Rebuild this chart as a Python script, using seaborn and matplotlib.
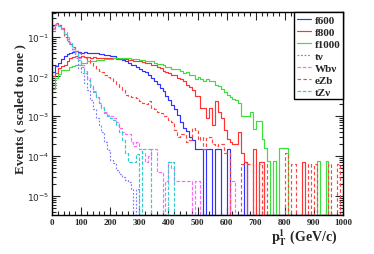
import numpy as np
import pandas as pd
import seaborn as sns
from matplotlib import pyplot as plt
from matplotlib.ticker import LogLocator, MultipleLocator, LogFormatterMathtext, NullFormatter

# 10 GeV bins from 0 to 1000, values read bin by bin off the picture
bin_lo = list(range(0, 1000, 10))

f600 = [0.013, 0.018, 0.022, 0.027, 0.032, 0.036, 0.038, 0.041, 0.043, 0.042,
        0.040, 0.041, 0.040, 0.039, 0.038, 0.038, 0.037, 0.036, 0.035, 0.034,
        0.033, 0.032, 0.030, 0.028, 0.026, 0.024, 0.022, 0.020, 0.019, 0.017,
        0.0155, 0.014, 0.0126, 0.011, 0.009, 0.0075, 0.0063, 0.005, 0.0042, 0.0032,
        0.0025, 0.0019, 0.0015, 0.0011, 0.0007, 0.0005, 0.00042, 0.0003, 0.00025, 0.00015,
        0.00015, 0.00015, 0, 0.00015, 0.00015, 0, 0.00015, 0.00015, 0, 0,
        0.00015, 0, 0, 0, 0, 0, 7e-5, 0, 0, 0,
        0, 0, 0, 0, 0, 0, 0, 0, 0, 0,
        0, 0, 0, 0, 0, 0, 0, 0, 0, 0,
        0, 0, 0, 0, 0, 0, 0, 0, 0, 0]

f800 = [0.010, 0.0125, 0.016, 0.018, 0.020, 0.024, 0.029, 0.031, 0.032, 0.031,
        0.032, 0.031, 0.031, 0.030, 0.031, 0.030, 0.030, 0.030, 0.029, 0.030,
        0.029, 0.029, 0.028, 0.028, 0.027, 0.027, 0.026, 0.026, 0.025, 0.025,
        0.024, 0.023, 0.022, 0.022, 0.020, 0.019, 0.017, 0.016, 0.014, 0.013,
        0.012, 0.011, 0.011, 0.009, 0.0085, 0.0075, 0.0062, 0.0055, 0.0045, 0.0032,
        0.0032, 0.0016, 0.0016, 0.0009, 0.0016, 0.0006, 0.0024, 0.0013, 0.0009, 0.00045,
        0.00027, 0.00022, 0.0002, 0.0002, 0.0004, 0.00012, 7e-5, 0, 0, 0.00015,
        0, 7e-5, 7e-5, 0, 0, 0, 0, 0, 0, 0,
        0, 0, 0, 0, 0, 0, 7e-5, 0, 0, 0,
        0, 0, 0, 0, 0, 0, 0, 0, 0, 0]

f1000 = [0.0048, 0.009, 0.0115, 0.0145, 0.0145, 0.0145, 0.017, 0.018, 0.020, 0.020,
         0.022, 0.022, 0.024, 0.024, 0.024, 0.026, 0.026, 0.026, 0.027, 0.027,
         0.027, 0.029, 0.029, 0.029, 0.029, 0.029, 0.029, 0.028, 0.027, 0.027,
         0.026, 0.026, 0.025, 0.025, 0.024, 0.022, 0.021, 0.021, 0.019, 0.017,
         0.017, 0.015, 0.015, 0.015, 0.014, 0.012, 0.013, 0.011, 0.011, 0.0085,
         0.0095, 0.0085, 0.0075, 0.0085, 0.0075, 0.0075, 0.006, 0.0057, 0.0048, 0.004,
         0.0035, 0.003, 0.0027, 0.0025, 0.0022, 0.001, 0.001, 0.001, 0.0013, 0.00047,
         0.00075, 0.00075, 0.00027, 0.00016, 7.5e-5, 0, 7.5e-5, 0, 0.00016, 0.00016,
         0.00016, 0, 0, 0, 0, 0, 0, 0, 0, 0,
         0, 7.5e-5, 0, 0, 7.5e-5, 0, 0, 0, 0, 0]

t_nu = [0.19, 0.21, 0.20, 0.16, 0.12, 0.085, 0.065, 0.044, 0.030, 0.016,
        0.012, 0.007, 0.0045, 0.0025, 0.0015, 0.0009, 0.0006, 0.0004, 0.00022, 0.00014,
        8e-5, 6.5e-5, 4.5e-5, 3.5e-5, 3e-5, 2.5e-5, 2.2e-5, 1.5e-5, 0, 1.5e-5,
        0, 0, 0, 0, 0, 0, 0, 0, 0, 0] + [0] * 60

wb_nu = [0.17, 0.21, 0.20, 0.17, 0.13, 0.10, 0.075, 0.055, 0.040, 0.030,
         0.020, 0.014, 0.009, 0.006, 0.0042, 0.003, 0.0022, 0.0017, 0.0013, 0.0011,
         0.001, 0.0009, 0.0007, 0.0005, 0.0004, 0.00035, 0.00035, 0.00022, 0.00018, 0.00022,
         0.00015, 0.00012, 7e-5, 0.0001, 0.00015, 0.00015, 4e-5, 4e-5, 0, 2.3e-5,
         7e-5, 5e-5, 2.3e-5, 2.3e-5, 2.3e-5, 2.3e-5, 2.3e-5, 2.3e-5, 0, 2.3e-5,
         2.3e-5, 0, 0, 0, 0, 0, 0, 0, 0, 0,
         0, 2.3e-5, 2.3e-5, 0, 0, 0, 0, 0, 0, 0] + [0] * 30

ezb = [0.14, 0.22, 0.20, 0.17, 0.10, 0.08, 0.065, 0.055, 0.045, 0.040,
       0.033, 0.030, 0.026, 0.022, 0.018, 0.0155, 0.014, 0.013, 0.011, 0.0095,
       0.009, 0.0075, 0.0065, 0.0055, 0.0045, 0.0035, 0.0033, 0.003, 0.003, 0.0028,
       0.0024, 0.0022, 0.002, 0.0024, 0.0016, 0.0015, 0.0013, 0.0012, 0.001, 0.001,
       0.0008, 0.0007, 0.00045, 0.0003, 0.00035, 0.00035, 0.00022, 0.00025, 0.0005, 0.00045,
       0.00025, 0.0003, 0.00015, 0.00028, 0.0003, 0.0002, 0.00018, 0.0002, 0.0002, 0.00012,
       0.00012, 0, 0, 0, 0, 6.4e-5, 6.4e-5, 6.4e-5, 6.4e-5, 0,
       0, 6.4e-5, 0, 6.4e-5, 0, 0, 0, 0, 0, 0,
       0.00012, 0, 6.4e-5, 6.4e-5, 0, 0, 0, 0, 6.4e-5, 0,
       6.4e-5, 0, 0, 0, 0, 6.4e-5, 0, 0, 6.4e-5, 0]

tz_nu = [0.16, 0.20, 0.19, 0.16, 0.12, 0.09, 0.07, 0.05, 0.036, 0.026,
         0.017, 0.012, 0.008, 0.0055, 0.004, 0.003, 0.0022, 0.0016, 0.0012, 0.001,
         0.0009, 0.0008, 0.0006, 0.0004, 0.00025, 0.00012, 7e-5, 7e-5, 7e-5, 0.00011,
         0, 0.00015, 0.00015, 0.00015, 0, 0, 0, 0, 0, 0,
         7e-5, 7e-5, 0, 0, 0, 0, 0, 0, 0, 0] + [0] * 50

labels = ['f600', 'f800', 'f1000', 't\u03bd', 'Wb\u03bd', 'eZb', 'tZ\u03bd']
series = [f600, f800, f1000, t_nu, wb_nu, ezb, tz_nu]
colors = ['#3333ff', '#ff3333', '#3ce03c', '#7b7bff', '#ff66ff', '#ff4444', '#33cccc']
styles = ['-', '-', '-', (0, (1.5, 1.5)), (0, (3, 1.5)), (0, (3, 2)), (0, (3, 1.5))]

ymin, ymax = 3.27e-6, 0.419
centers = np.array(bin_lo) + 5

sns.set_style('ticks')
plt.rcParams['mathtext.fontset'] = 'stix'

fig = plt.figure(figsize=(3.74, 2.55), dpi=100)
ax = fig.add_axes([52 / 374, 1 - 216 / 255, 291 / 374, 203 / 255])

for vals, lab, col, ls in zip(series, labels, colors, styles):
    # empty bins are drawn on the floor of the frame, as ROOT does
    df = pd.DataFrame({'pt': centers, 'w': np.maximum(np.array(vals, float), ymin)})
    sns.histplot(data=df, x='pt', weights='w', binwidth=10, binrange=(0, 1000),
                 element='step', fill=False,
                 color=col, linestyle=ls, linewidth=0.85, label=lab, ax=ax)

ax.set_yscale('log')
ax.set_xlim(0, 1000)
ax.set_ylim(ymin, ymax)
ax.set_xlabel('')
ax.set_ylabel('')

ax.xaxis.set_major_locator(MultipleLocator(100))
ax.xaxis.set_minor_locator(MultipleLocator(20))
ax.yaxis.set_major_locator(LogLocator(base=10, numticks=10))
ax.yaxis.set_minor_locator(LogLocator(base=10, subs=np.arange(2, 10), numticks=20))
ax.yaxis.set_major_formatter(LogFormatterMathtext())
ax.yaxis.set_minor_formatter(NullFormatter())
ax.tick_params(which='both', direction='in', top=True, right=True, width=0.8, pad=2)
ax.tick_params(which='major', length=6)
ax.tick_params(which='minor', length=3)
ax.tick_params(axis='y', labelsize=6.5)
for t in ax.get_xticklabels():
    t.set_family('Liberation Serif')
    t.set_weight('bold')
    t.set_fontsize(6.5)
for sp in ax.spines.values():
    sp.set_linewidth(1.0)
    sp.set_color('black')

leg = ax.legend(loc='upper right', bbox_to_anchor=(1, 1), borderaxespad=0,
                fancybox=False, framealpha=1, edgecolor='black',
                handlelength=1.3, handletextpad=0.3, borderpad=0.25, labelspacing=0.2,
                prop={'family': 'Liberation Serif', 'weight': 'bold', 'size': 8})
leg.get_frame().set_linewidth(1.0)

fig.text(20 / 374, 1 - 109 / 255, 'Events ( scaled to one )', rotation=90,
         ha='center', va='center', family='Liberation Serif', weight='bold', fontsize=9.5)
fig.text(304 / 374, 1 - 238 / 255, r'$\mathbf{p_{T}^{1}}$ (GeV/c)',
         ha='center', va='center', family='Liberation Serif', weight='bold', fontsize=10)

plt.savefig('out.png', dpi=100)
